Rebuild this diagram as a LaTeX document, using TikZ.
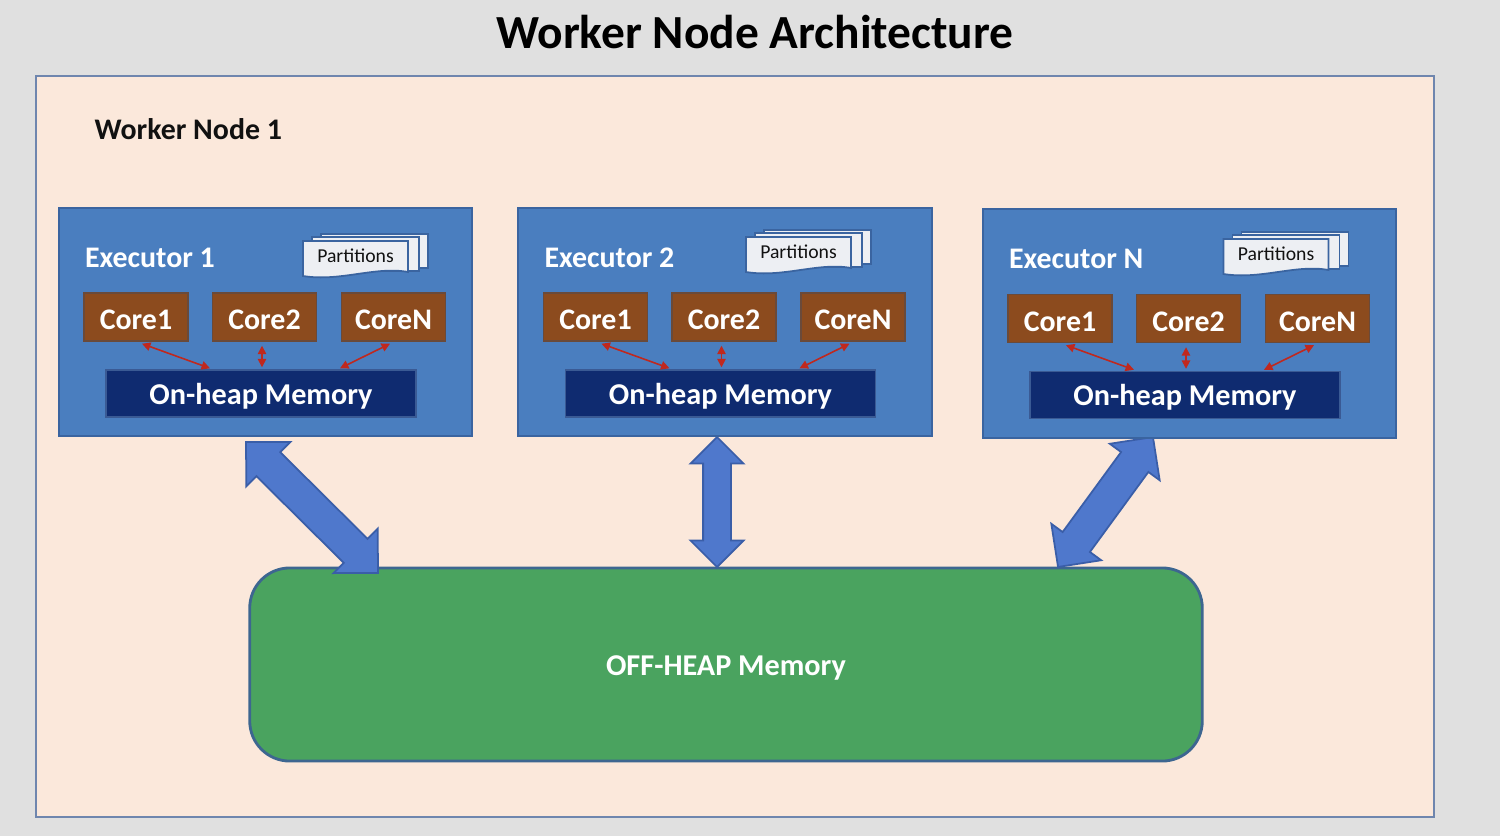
\documentclass[tikz,border=0pt]{standalone}
\usepackage{fontspec}
\setmainfont{Carlito}
\usepackage{tikz}
\usetikzlibrary{arrows.meta,calc,shapes.arrows}
\definecolor{page}{HTML}{E0E0E0}
\definecolor{peach}{HTML}{FBE8DB}
\definecolor{peachedge}{HTML}{6F86AE}
\definecolor{execfill}{HTML}{4A7EBF}
\definecolor{execedge}{HTML}{3A64A0}
\definecolor{corefill}{HTML}{8C4B1E}
\definecolor{coreedge}{HTML}{6A4A3A}
\definecolor{heapfill}{HTML}{0F2B70}
\definecolor{heapedge}{HTML}{3A5A94}
\definecolor{offfill}{HTML}{4AA35F}
\definecolor{offedge}{HTML}{3D6690}
\definecolor{arrowfill}{HTML}{4F78CC}
\definecolor{arrowedge}{HTML}{3A5EA8}
\definecolor{redarrow}{HTML}{C0281E}
\definecolor{sheetfill}{HTML}{EDEFF3}
\definecolor{ink}{HTML}{111111}
\tikzset{
  worker/.style={draw=peachedge, fill=peach, line width=0.6pt},
  exec/.style={draw=execedge, fill=execfill, line width=0.6pt, minimum width=4.13cm, minimum height=2.28cm},
  execlab/.style={text=white, font=\fontsize{8.5}{10}\selectfont\bfseries, anchor=west, inner sep=0pt},
  core/.style={draw=coreedge, fill=corefill, text=white, font=\fontsize{8.5}{10}\selectfont\bfseries, minimum width=1.04cm, minimum height=0.48cm, inner sep=0pt, text height=7.2pt, text depth=0pt},
  onheap/.style={draw=heapedge, fill=heapfill, text=white, font=\fontsize{8.6}{10}\selectfont\bfseries, minimum width=3.1cm, minimum height=0.47cm, inner sep=0pt, text height=6.2pt, text depth=0pt},
  offheap/.style={draw=offedge, fill=offfill, line width=0.8pt, rounded corners=0.4cm, minimum width=9.52cm, minimum height=1.93cm, text=white, font=\fontsize{8.6}{10}\selectfont\bfseries, text height=6pt, text depth=0pt},
  sheet/.style={fill=sheetfill, draw=execedge, line width=0.5pt},
  partlab/.style={text=ink, font=\fontsize{5.6}{7}\selectfont, inner sep=0pt},
  link/.style={{Triangle[length=2.4pt,width=2.4pt]}-{Triangle[length=2.4pt,width=2.4pt]}, draw=redarrow, fill=redarrow, line width=0.45pt},
  blockarr/.style={double arrow, double arrow tip angle=90, fill=arrowfill, draw=arrowedge, line width=0.5pt, inner xsep=0pt, minimum width=0pt},
  title/.style={text=black, font=\fontsize{13.5}{16}\selectfont\bfseries},
  wlab/.style={text=ink, font=\fontsize{8.5}{10}\selectfont\bfseries, anchor=west, inner sep=0pt}
}
\begin{document}
\begin{tikzpicture}[x=0.01cm, y=-0.01cm]
  \fill[page] (0,0) rectangle (1500,836);
  \useasboundingbox (0,0) rectangle (1500,836);

  \node[title] (title) at (755,32) {Worker Node Architecture};
  \draw[worker] (36,76) rectangle (1434,817);
  \node[wlab] (wn) at (94,129) {Worker Node 1};

  \node[offheap] (off) at (726,664.5) {OFF-HEAP Memory};

  % block arrows between executors and off-heap memory
  \coordinate (t1) at (246,442); \coordinate (h1) at (378,573);
  \coordinate (t2) at (717,437); \coordinate (h2) at (717,567);
  \coordinate (t3) at (1153,437); \coordinate (h3) at (1058,567);
  \foreach \a/\b/\w/\h in {t1/h1/0.16cm/0.145cm, t2/h2/0.13cm/0.125cm, t3/h3/0.16cm/0.14cm}
    \path let \p1=($(\b)-(\a)$), \n1={atan2(\y1,\x1)}, \n2={veclen(\x1,\y1)} in
      node[blockarr, inner ysep=\w, double arrow head extend=\h, minimum height=\n2, rotate=\n1] at ($(\a)!0.5!(\b)$) {};

  % executors
  \foreach \i/\x/\y/\lab/\px/\py in {1/265.5/322/Executor 1/90/-64, 2/725/322/Executor 2/73.5/-68, 3/1189.5/323.5/Executor N/86.5/-67.5}{
    \node[exec] (e\i) at (\x,\y) {};
    \node[execlab] (l\i) at ($(e\i.north west)+(26.5,51)$) {\lab};
    \node[core] (c\i1) at ($(e\i)+(-129.5,-5)$) {Core1};
    \node[core] (c\i2) at ($(e\i)+(-1,-5)$) {Core2};
    \node[core] (c\i3) at ($(e\i)+(128,-5)$) {CoreN};
    \node[onheap] (o\i) at ($(e\i)+(-4.5,71.5)$) {On-heap Memory};
    \draw[link] ($(c\i1.south)+(6,2)$) -- ($(o\i.north)+(-51,-1)$);
    \draw[link] ($(c\i2.south)+(-2.5,4)$) -- ($(o\i.north)+(1,-2)$);
    \draw[link] ($(c\i3.south)+(-3.5,2)$) -- ($(o\i.north)+(79,-1)$);
    % partitions stack
    \coordinate (pc\i) at ($(e\i)+(\px,\py)$);
    \draw[sheet] ($(pc\i)+(-34.5,-24)$) rectangle ($(pc\i)+(72.5,10)$);
    \draw[sheet] ($(pc\i)+(-43.5,-21)$) rectangle ($(pc\i)+(63.5,13)$);
    \draw[sheet] ($(pc\i)+(-52.5,-17)$) -- ($(pc\i)+(52.5,-17)$) -- ($(pc\i)+(52.5,14)$)
      .. controls ($(pc\i)+(20,8)$) and ($(pc\i)+(-15,24)$) .. ($(pc\i)+(-52.5,18)$) -- cycle;
    \node[partlab] (p\i) at ($(pc\i)+(0,-2)$) {Partitions};
  }
\end{tikzpicture}
\end{document}
